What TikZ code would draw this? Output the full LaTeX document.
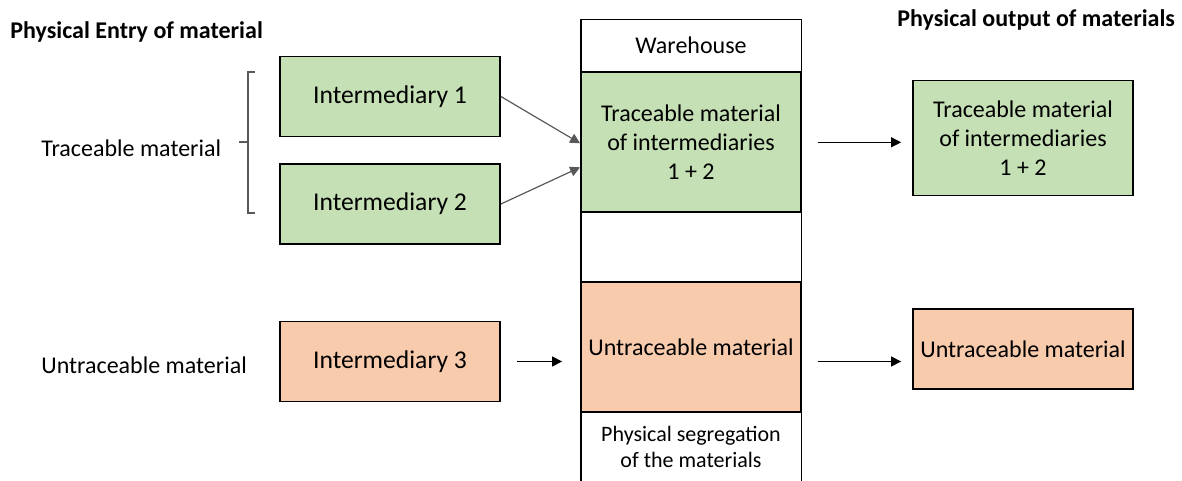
\documentclass[tikz,border=0pt]{standalone}
\usepackage{fontspec}
\setmainfont{Carlito}
\usetikzlibrary{arrows.meta, positioning}
\definecolor{traceGreen}{HTML}{C5E0B4}
\definecolor{untraceOrange}{HTML}{F8CBAD}
\definecolor{lineGray}{HTML}{595959}

\begin{document}
\begin{tikzpicture}[
		x=0.5pt, y=-0.5pt,
		node distance=0pt,
		every node/.style={font=\fontsize{12}{14.5}\selectfont},
		heading/.style={font=\fontsize{12}{14.5}\selectfont\bfseries, anchor=west, inner sep=0pt},
		label/.style={anchor=west, inner sep=0pt},
		box/.style={draw=black, line width=0.9pt, minimum width=110pt, minimum height=40pt, align=center, inner sep=1pt},
		green/.style={box, fill=traceGreen},
		orange/.style={box, fill=untraceOrange},
		inter/.style={font=\fontsize{12.8}{15.5}\selectfont},
		cell/.style={minimum width=110pt, align=center, inner sep=1pt},
		arrow/.style={-{Triangle[length=5pt, width=5pt]}, line width=0.6pt, draw=black},
		slant/.style={arrow, draw=lineGray}
	]
		\useasboundingbox (0,0) rectangle (1182,481);

		% headings and side labels
		\node[heading] (entry) at (10,32) {Physical Entry of material};
		\node[heading] (output) at (897,20) {Physical output of materials};
		\node[label] (tracelbl) at (41,148) {Traceable material};
		\node[label] (untracelbl) at (41,365) {Untraceable material};

		% intermediaries
		\node[green, inter] (int1) at (390,96.5) {Intermediary 1};
		\node[green, inter] (int2) at (390,204) {Intermediary 2};
		\node[orange, inter] (int3) at (390,361.5) {Intermediary 3};

		% bracket for the traceable group
		\draw[lineGray, line width=0.6pt] (255,72) -| (248,213) -- (255,213);
		\draw[lineGray, line width=0.6pt] (239,142) -- (248,142);

		% warehouse column
		\node[cell, minimum height=25.5pt] (wh) at (691,45.5) {Warehouse};
		\node[green, minimum height=70pt, below=of wh] (trace) {Traceable material\\of intermediaries\\1 + 2};
		\node[cell, minimum height=33.5pt, below=of trace] (gap) {};
		\node[orange, minimum height=65pt, below=of gap] (untrace) {Untraceable material};
		\node[cell, minimum height=33.5pt, below=of untrace, font=\fontsize{11}{13}\selectfont] (seg) {Physical segregation\\of the materials};
		\draw[line width=0.9pt] (seg.south west) -- (wh.north west) -- (wh.north east) -- (seg.south east);

		% outputs
		\node[green, minimum height=57.5pt] (outtrace) at (1023,138) {Traceable material\\of intermediaries\\1 + 2};
		\node[orange] (outuntrace) at (1023,349) {Untraceable material};

		% flows
		\draw[slant] (int1.east) -- ([yshift=-0.5pt]trace.west);
		\draw[slant] (int2.east) -- ([yshift=-12.5pt]trace.west);
		\draw[arrow, shorten <=8pt, shorten >=9pt] (int3.east) -- (int3.east -| untrace.west);
		\draw[arrow, shorten <=8pt, shorten >=5.5pt] (trace.east) -- (trace.east -| outtrace.west);
		\draw[arrow, shorten <=8pt, shorten >=5.5pt] (untrace.east |- int3.east) -- (int3.east -| outuntrace.west);
	\end{tikzpicture}
\end{document}
